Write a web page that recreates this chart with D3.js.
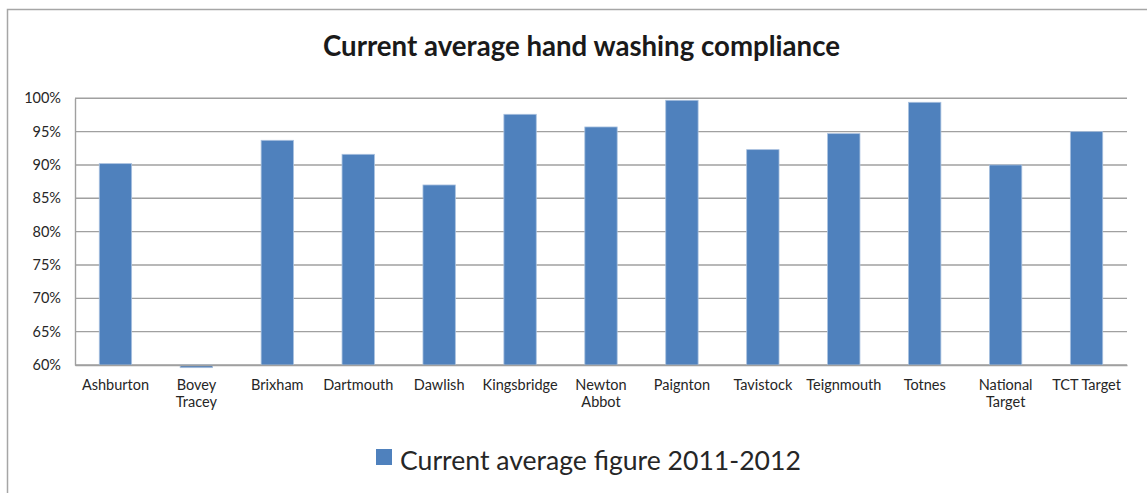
<!DOCTYPE html>
<html lang="en">
<head>
  <meta charset="UTF-8">
  <title>Current average hand washing compliance</title>
  <script src="https://d3js.org/d3.v7.min.js"></script>
  <style>
    body { margin: 0; background: #fff; }
    svg { display: block; font-family: Lato, "Noto Sans", sans-serif; }
    .title { font-weight: bold; fill: #1a1a1a; }
    .tick text { font-family: Lato, "Noto Sans", sans-serif; font-size: 14.5px; fill: #262626; }
    .legend-text { fill: #262626; }
  </style>
</head>
<body>

<svg width="1147" height="493"></svg>

<script>
  // Data
  const categories = ["Ashburton", "Bovey Tracey", "Brixham", "Dartmouth", "Dawlish", "Kingsbridge",
    "Newton Abbot", "Paignton", "Tavistock", "Teignmouth", "Totnes", "National Target", "TCT Target"];
  const tickLabels = [["Ashburton"], ["Bovey", "Tracey"], ["Brixham"], ["Dartmouth"], ["Dawlish"], ["Kingsbridge"],
    ["Newton", "Abbot"], ["Paignton"], ["Tavistock"], ["Teignmouth"], ["Totnes"], ["National", "Target"], ["TCT Target"]];
  const values = [90.2, 59.6, 93.7, 91.6, 87.0, 97.6, 95.7, 99.7, 92.3, 94.7, 99.4, 90.0, 95.0];
  const yTicks = [60, 65, 70, 75, 80, 85, 90, 95, 100];
  const seriesName = "Current average figure 2011-2012";
  const titleText = "Current average hand washing compliance";

  const svg = d3.select("svg");

  // outer chart border (runs off the right / bottom of the picture)
  svg.append("rect")
    .attr("x", 7.5).attr("y", 9.5)
    .attr("width", 1300).attr("height", 700)
    .attr("fill", "none")
    .attr("stroke", "#a6a6a6")
    .attr("stroke-width", 1.5);

  // plot area
  const plotLeft = 75, plotRight = 1127, plotTop = 98.3, plotBottom = 365;

  const x = d3.scaleBand()
    .domain(categories)
    .range([plotLeft, plotRight])
    .paddingInner(0.6)
    .paddingOuter(0.3);

  const y = d3.scaleLinear()
    .domain([60, 100])
    .range([plotBottom, plotTop]);

  // gridlines
  svg.append("g")
    .selectAll("line")
    .data(yTicks)
    .enter().append("line")
    .attr("x1", plotLeft).attr("x2", plotRight)
    .attr("y1", d => y(d)).attr("y2", d => y(d))
    .attr("stroke", "#a0a0a0")
    .attr("stroke-width", 1.4);

  // y axis
  const yAxis = svg.append("g")
    .attr("transform", `translate(${plotLeft},0)`)
    .call(d3.axisLeft(y).tickValues(yTicks).tickSize(0).tickPadding(14).tickFormat(d => d + "%"));
  yAxis.select(".domain").attr("stroke", "#a0a0a0").attr("stroke-width", 1.4);

  // bars
  svg.append("g")
    .selectAll("rect")
    .data(values)
    .enter().append("rect")
    .attr("x", (d, i) => x(categories[i]))
    .attr("width", x.bandwidth())
    .attr("y", d => Math.min(y(d), y(60)))
    .attr("height", d => Math.abs(y(60) - y(d)))
    .attr("fill", "#4f81bd")
    .attr("stroke", "#a9c1df")
    .attr("stroke-width", 0.8);

  // x axis
  const xAxis = svg.append("g")
    .attr("transform", `translate(0,${plotBottom})`)
    .call(d3.axisBottom(x).tickSize(0).tickFormat(""));
  xAxis.select(".domain").attr("stroke", "#a0a0a0").attr("stroke-width", 1.4);

  xAxis.selectAll(".tick").each(function(d, i) {
    const t = d3.select(this).select("text")
      .attr("y", 0).attr("dy", null);
    tickLabels[i].forEach((line, k) => {
      t.append("tspan")
        .attr("x", 0)
        .attr("y", 25 + k * 16.5)
        .text(line);
    });
  });

  // title, sized to the reference width
  const title = svg.append("text")
    .attr("class", "title")
    .attr("x", 581.5).attr("y", 56)
    .attr("text-anchor", "middle")
    .attr("font-size", 22)
    .text(titleText);
  const tw = title.node().getComputedTextLength();
  title.attr("font-size", 22 * 517 / tw);

  // legend
  svg.append("rect")
    .attr("x", 376).attr("y", 449)
    .attr("width", 16).attr("height", 16)
    .attr("fill", "#4f81bd");
  const legendText = svg.append("text")
    .attr("class", "legend-text")
    .attr("x", 400).attr("y", 470)
    .attr("font-size", 24)
    .text(seriesName);
  const lw = legendText.node().getComputedTextLength();
  legendText.attr("font-size", 24 * 401 / lw);
</script>

</body>
</html>
